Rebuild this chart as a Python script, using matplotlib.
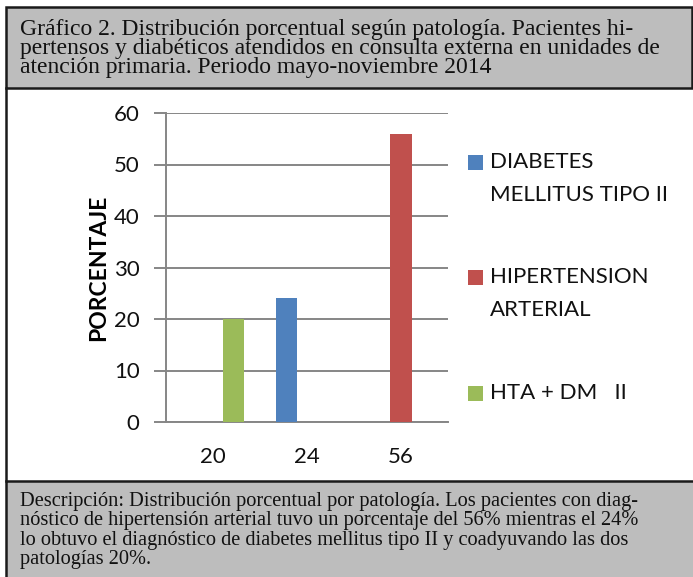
import numpy as np
import matplotlib
matplotlib.use('Agg')
import matplotlib.pyplot as plt
from matplotlib.patches import Rectangle
from matplotlib.lines import Line2D

# data
categories = ['20', '24', '56']
series = ['DIABETES\nMELLITUS TIPO II', 'HIPERTENSION\nARTERIAL', 'HTA + DM   II']
diabetes = [0, 24, 0]
hipertension = [0, 0, 56]
hta_dm = [20, 0, 0]
colors = ['#4F81BD', '#C0504D', '#9BBB59']
yticks = [0, 10, 20, 30, 40, 50, 60]

title_lines = [
    'Gráfico 2. Distribución porcentual según patología. Pacientes hi-',
    'pertensos y diabéticos atendidos en consulta externa en unidades de',
    'atención primaria. Periodo mayo-noviembre 2014',
]
desc_lines = [
    'Descripción: Distribución porcentual por patología. Los pacientes con diag-',
    'nóstico de hipertensión arterial tuvo un porcentaje del 56% mientras el 24%',
    'lo obtuvo el diagnóstico de diabetes mellitus tipo II y coadyuvando las dos',
    'patologías 20%.',
]

W, H = 693, 577
fig = plt.figure(figsize=(W / 100, H / 100), dpi=100)


def fx(x):
    return x / W


def fy(y):
    return 1 - y / H


# header and footer boxes
fig.patches.append(Rectangle((fx(6), fy(88)), fx(686), 81 / H, transform=fig.transFigure,
                             facecolor='#bdbdbd', edgecolor='#1a1a1a', lw=1.8))
fig.patches.append(Rectangle((fx(6), fy(590)), fx(700), 109 / H, transform=fig.transFigure,
                             facecolor='#bdbdbd', edgecolor='#1a1a1a', lw=1.8))
fig.lines.append(Line2D([fx(6), fx(6)], [fy(88), fy(481)], transform=fig.transFigure,
                        color='#1a1a1a', lw=1.8))

serif = 'Liberation Serif'
for i, line in enumerate(title_lines):
    fig.text(fx(20), fy(35 + 19 * i), line, family=serif, fontsize=17,
             ha='left', va='baseline', color='#111111')
for i, line in enumerate(desc_lines):
    fig.text(fx(20), fy(506 + 19.3 * i), line, family=serif, fontsize=14.7,
             ha='left', va='baseline', color='#111111')

# chart
sans = 'Lato'
ax = fig.add_axes([fx(166), fy(422), fx(448 - 166), (422 - 113) / H])
x = np.arange(len(categories))
width = 0.23
for i, vals in enumerate([diabetes, hipertension, hta_dm]):
    ax.bar(x + (i - 1) * 0.22, vals, width, color=colors[i], zorder=3)

ax.set_xlim(-0.5, 2.5)
ax.set_ylim(0, 60)
ax.set_yticks(yticks)
ax.set_xticks(x)
ax.set_xticklabels(categories)
ax.yaxis.grid(True, color='#868686', lw=1.4, zorder=0)
for s in ['top', 'right']:
    ax.spines[s].set_visible(False)
ax.spines['left'].set_color('#868686')
ax.spines['left'].set_linewidth(1.4)
ax.spines['bottom'].set_color('#868686')
ax.spines['bottom'].set_linewidth(1.4)
ax.tick_params(axis='y', length=9, width=1.4, color='#868686', pad=10,
               labelsize=16, labelcolor='#111111')
ax.tick_params(axis='x', length=0, pad=18, labelsize=16, labelcolor='#111111')
for lab in ax.get_xticklabels() + ax.get_yticklabels():
    lab.set_family(sans)
ax.set_ylabel('PORCENTAJE', family=sans, fontsize=16.5, fontweight='bold', labelpad=3)

# legend
legend_y = [162, 277, 393]
for i, label in enumerate(series):
    fig.patches.append(Rectangle((fx(468), fy(legend_y[i] + 7.5)), fx(15), 15 / H,
                                 transform=fig.transFigure, facecolor=colors[i], edgecolor='none'))
    for j, part in enumerate(label.split('\n')):
        fig.text(fx(490), fy(legend_y[i] + 33 * j), part, family=sans, fontsize=16,
                 ha='left', va='center', color='#111111')

fig.savefig('out.png', dpi=100)
